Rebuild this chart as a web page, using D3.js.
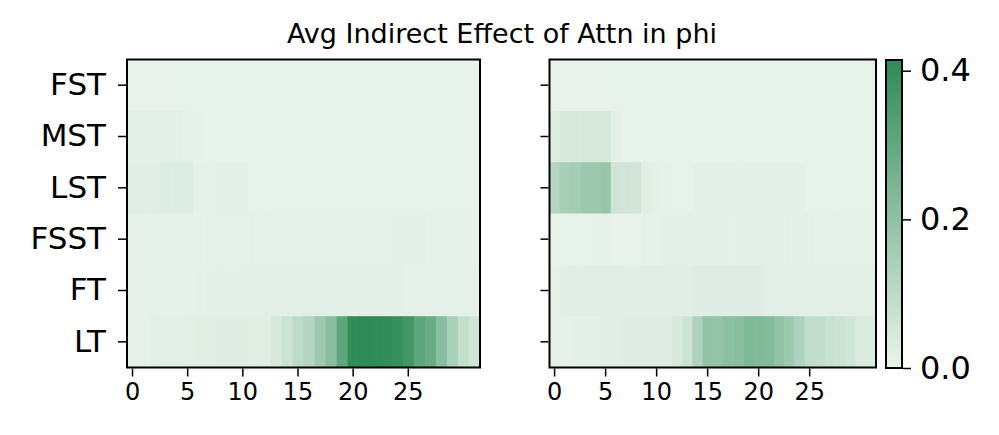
<!DOCTYPE html>
<html>
<head>
<meta charset="utf-8">
<script src="https://cdn.jsdelivr.net/npm/d3@7"></script>
<style>
	body { margin: 0; background: #fff; }
	svg { display: block; font-family: "DejaVu Sans", sans-serif; }
	.axis path { display: none; }
	.axis line { stroke: #000; stroke-width: 1.5; }
	.axis text { fill: #000; font-family: "DejaVu Sans", sans-serif; }
</style>
</head>
<body>
<svg id="chart" width="999" height="435"></svg>
<script>
"use strict";

var rows = ['FST', 'MST', 'LST', 'FSST', 'FT', 'LT'];
var layers = d3.range(32);
var xTicks = [0, 5, 10, 15, 20, 25];
var cbarTicks = [0.0, 0.2, 0.4];
var vmax = 0.4144;

// left panel, one array per row
var leftFST  = [0.007,0.007,0.007,0.007,0.007,0.008,0.008,0.008,0.008,0.008,0.009,0.009,0.009,0.009,0.009,0.009,0.009,0.009,0.009,0.009,0.009,0.009,0.009,0.009,0.009,0.009,0.009,0.009,0.009,0.009,0.009,0.009];
var leftMST  = [0.017,0.017,0.017,0.017,0.017,0.013,0.011,0.009,0.009,0.009,0.009,0.009,0.009,0.009,0.009,0.009,0.009,0.009,0.009,0.009,0.009,0.009,0.009,0.009,0.009,0.009,0.009,0.009,0.009,0.009,0.009,0.009];
var leftLST  = [0.022,0.022,0.022,0.028,0.028,0.028,0.015,0.015,0.020,0.020,0.020,0.009,0.009,0.009,0.009,0.009,0.009,0.009,0.009,0.009,0.009,0.009,0.009,0.009,0.009,0.009,0.009,0.009,0.009,0.009,0.009,0.009];
var leftFSST = [0.010,0.010,0.010,0.010,0.010,0.010,0.010,0.013,0.013,0.013,0.013,0.013,0.013,0.013,0.013,0.013,0.013,0.013,0.013,0.013,0.014,0.014,0.014,0.014,0.017,0.017,0.017,0.011,0.011,0.011,0.011,0.011];
var leftFT   = [0.013,0.013,0.013,0.013,0.013,0.013,0.016,0.016,0.016,0.017,0.017,0.018,0.018,0.018,0.018,0.020,0.020,0.020,0.020,0.017,0.017,0.017,0.017,0.017,0.017,0.014,0.014,0.014,0.014,0.014,0.014,0.014];
var leftLT   = [0.013,0.013,0.020,0.020,0.020,0.020,0.024,0.024,0.026,0.026,0.026,0.024,0.024,0.044,0.068,0.100,0.120,0.168,0.212,0.308,0.410,0.415,0.412,0.405,0.395,0.369,0.308,0.284,0.212,0.144,0.085,0.061];

// right panel
var rightFST  = [0.007,0.007,0.007,0.007,0.007,0.007,0.009,0.009,0.009,0.009,0.009,0.009,0.009,0.009,0.009,0.009,0.009,0.009,0.009,0.009,0.009,0.009,0.009,0.009,0.009,0.009,0.009,0.009,0.009,0.009,0.009,0.009];
var rightMST  = [0.028,0.044,0.044,0.044,0.044,0.044,0.017,0.009,0.009,0.009,0.009,0.009,0.009,0.009,0.009,0.009,0.009,0.009,0.009,0.009,0.009,0.009,0.009,0.009,0.009,0.009,0.009,0.009,0.009,0.009,0.009,0.009];
var rightLST  = [0.118,0.149,0.155,0.168,0.175,0.186,0.062,0.060,0.058,0.024,0.017,0.013,0.009,0.009,0.017,0.017,0.017,0.017,0.017,0.017,0.017,0.017,0.017,0.017,0.017,0.009,0.009,0.009,0.009,0.009,0.009,0.009];
var rightFSST = [0.009,0.009,0.009,0.009,0.011,0.011,0.006,0.006,0.006,0.013,0.013,0.016,0.016,0.016,0.016,0.016,0.016,0.016,0.016,0.016,0.016,0.016,0.016,0.016,0.016,0.016,0.011,0.011,0.011,0.011,0.011,0.011];
var rightFT   = [0.013,0.022,0.022,0.022,0.022,0.022,0.022,0.022,0.022,0.022,0.022,0.022,0.022,0.022,0.026,0.026,0.026,0.026,0.026,0.026,0.026,0.020,0.020,0.020,0.020,0.020,0.020,0.020,0.020,0.020,0.020,0.020];
var rightLT   = [0.013,0.013,0.017,0.017,0.017,0.022,0.022,0.026,0.026,0.026,0.026,0.026,0.044,0.068,0.133,0.194,0.192,0.207,0.212,0.238,0.232,0.225,0.197,0.170,0.133,0.094,0.090,0.076,0.068,0.061,0.037,0.037];

var leftData = [leftFST, leftMST, leftLST, leftFSST, leftFT, leftLT];
var rightData = [rightFST, rightMST, rightLST, rightFSST, rightFT, rightLT];

var svg = d3.select('#chart');
var plotTop = 59.5, plotBottom = 367.5;

// light_palette-like ramp: pale green-grey to seagreen
var color = d3.scaleLinear().domain([0, vmax])
	.range(['#ebf4ed', '#2e8b57']).interpolate(d3.interpolateRgb).clamp(true);

function drawHeatmap(x0, x1, data, showLabels) {
	var x = d3.scaleBand().domain(layers).range([x0, x1]);
	var y = d3.scaleBand().domain(rows).range([plotTop, plotBottom]);
	var g = svg.append('g');

	// cells
	data.forEach(function(vals, r) {
		g.selectAll(null).data(vals).enter().append('rect')
			.attr('x', function(d, i) { return x(i); })
			.attr('y', y(rows[r]))
			.attr('width', x.bandwidth() + 0.5)
			.attr('height', y.bandwidth() + 0.5)
			.attr('fill', function(d) { return color(d); });
	});

	// frame
	g.append('rect').attr('x', x0).attr('y', plotTop)
		.attr('width', x1 - x0).attr('height', plotBottom - plotTop)
		.attr('fill', 'none').attr('stroke', '#000').attr('stroke-width', 2);

	var xa = g.append('g').attr('class', 'axis')
		.attr('transform', 'translate(0,' + (plotBottom + 1) + ')')
		.call(d3.axisBottom(x).tickValues(xTicks).tickSize(8).tickPadding(6));
	xa.selectAll('text').style('font-size', '24px');

	var ya = g.append('g').attr('class', 'axis')
		.attr('transform', 'translate(' + (x0 - 1) + ',0)')
		.call(d3.axisLeft(y).tickSize(8).tickPadding(12));
	ya.selectAll('text').style('font-size', '31px');
	if (!showLabels) ya.selectAll('text').remove();
} // end function drawHeatmap(...)

function drawColorbar(x0, x1, y0, y1) {
	var s = d3.scaleLinear().domain([0, vmax]).range([y1, y0]);
	var grad = svg.append('defs').append('linearGradient').attr('id', 'cbar')
		.attr('x1', 0).attr('y1', 1).attr('x2', 0).attr('y2', 0);
	grad.append('stop').attr('offset', 0).attr('stop-color', color(0));
	grad.append('stop').attr('offset', 1).attr('stop-color', color(vmax));

	svg.append('rect').attr('x', x0).attr('y', y0).attr('width', x1 - x0)
		.attr('height', y1 - y0).attr('fill', 'url(#cbar)')
		.attr('stroke', '#000').attr('stroke-width', 2);

	var a = svg.append('g').attr('class', 'axis')
		.attr('transform', 'translate(' + (x1 + 1) + ',0)')
		.call(d3.axisRight(s).tickValues(cbarTicks).tickFormat(d3.format('.1f'))
			.tickSize(8).tickPadding(9));
	a.selectAll('text').style('font-size', '32px');
} // end function drawColorbar(...)

drawHeatmap(127, 480, leftData, true);
drawHeatmap(549.5, 876, rightData, false);
drawColorbar(886, 902, 60, 368);

svg.append('text').attr('x', 502).attr('y', 43)
	.attr('text-anchor', 'middle').style('font-size', '27px')
	.text('Avg Indirect Effect of Attn in phi');
</script>
</body>
</html>
